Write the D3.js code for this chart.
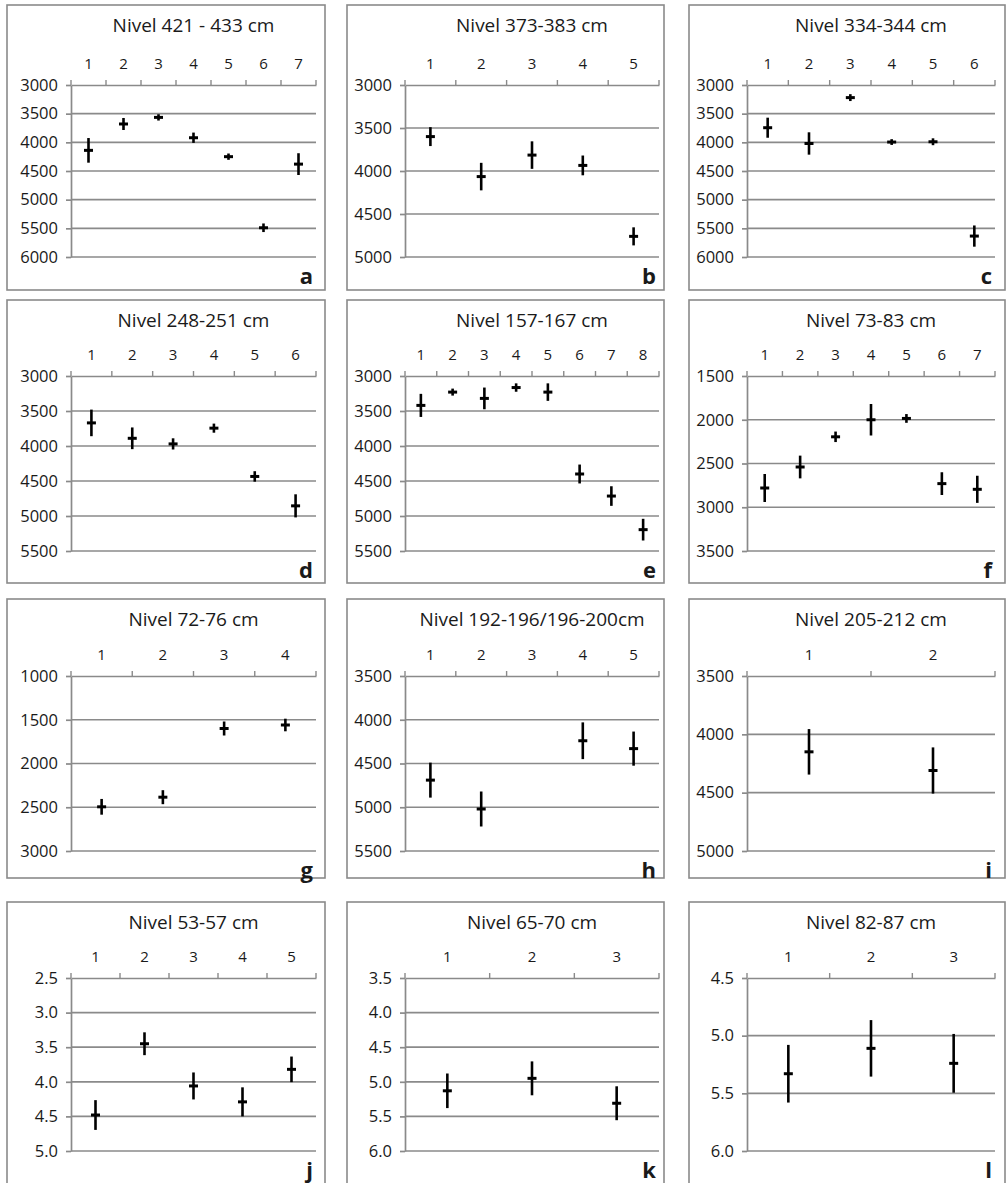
<!DOCTYPE html>
<html>
<head>
<meta charset="utf-8">
<script src="https://cdn.jsdelivr.net/npm/d3@7"></script>
<style>
body { margin: 0; background: #fff; }
text { font-family: "Open Sans", sans-serif; fill: #1a1a1a; }
</style>
</head>
<body>
<div id="chart"></div>
<script>
// one entry per panel, a..l
const titles = ["Nivel 421 - 433 cm", "Nivel 373-383 cm", "Nivel 334-344 cm",
	"Nivel 248-251 cm", "Nivel 157-167 cm", "Nivel 73-83 cm",
	"Nivel 72-76 cm", "Nivel 192-196/196-200cm", "Nivel 205-212 cm",
	"Nivel 53-57 cm", "Nivel 65-70 cm", "Nivel 82-87 cm"]
const letters = ["a", "b", "c", "d", "e", "f", "g", "h", "i", "j", "k", "l"]
const categories = [
	["1", "2", "3", "4", "5", "6", "7"],
	["1", "2", "3", "4", "5"],
	["1", "2", "3", "4", "5", "6"],
	["1", "2", "3", "4", "5", "6"],
	["1", "2", "3", "4", "5", "6", "7", "8"],
	["1", "2", "3", "4", "5", "6", "7"],
	["1", "2", "3", "4"],
	["1", "2", "3", "4", "5"],
	["1", "2"],
	["1", "2", "3", "4", "5"],
	["1", "2", "3"],
	["1", "2", "3"]
]
const means = [
	[4140, 3680, 3565, 3920, 4250, 5490, 4380],
	[3600, 4065, 3815, 3935, 4760],
	[3745, 4020, 3220, 3995, 3990, 5635],
	[3670, 3890, 3970, 3745, 4435, 4855],
	[3420, 3230, 3320, 3165, 3230, 4400, 4715, 5195],
	[2780, 2540, 2195, 2000, 1985, 2730, 2795],
	[2495, 2385, 1600, 1560],
	[4690, 5020, null, 4240, 4330],
	[4150, 4310],
	[4.48, 3.45, 4.06, 4.29, 3.82],
	[5.13, 4.95, 5.31],
	[5.33, 5.11, 5.24]
]
const errors = [
	[215, 105, 55, 90, 55, 75, 190],
	[110, 160, 160, 115, 105],
	[175, 195, 60, 50, 60, 185],
	[190, 155, 80, 65, 75, 165],
	[165, 50, 155, 60, 125, 135, 140, 155],
	[160, 130, 60, 180, 50, 130, 155],
	[90, 80, 80, 72],
	[200, 200, null, 210, 195],
	[195, 198],
	[0.215, 0.165, 0.195, 0.21, 0.185],
	[0.25, 0.245, 0.245],
	[0.25, 0.245, 0.255]
]
const yTicks = [
	[3000, 3500, 4000, 4500, 5000, 5500, 6000],
	[3000, 3500, 4000, 4500, 5000],
	[3000, 3500, 4000, 4500, 5000, 5500, 6000],
	[3000, 3500, 4000, 4500, 5000, 5500],
	[3000, 3500, 4000, 4500, 5000, 5500],
	[1500, 2000, 2500, 3000, 3500],
	[1000, 1500, 2000, 2500, 3000],
	[3500, 4000, 4500, 5000, 5500],
	[3500, 4000, 4500, 5000],
	[2.5, 3.0, 3.5, 4.0, 4.5, 5.0],
	[3.5, 4.0, 4.5, 5.0, 5.5, 6.0],
	[4.5, 5.0, 5.5, 6.0]
]

const svg = d3.select("#chart").append("svg").attr("width", 1008).attr("height", 1183)

// panel boxes: column x / width / plot margins, row y / height / plot top & bottom
const cols = [{x: 7, w: 318, pl: 64, pr: 9}, {x: 347, w: 317, pl: 58, pr: 5}, {x: 689, w: 316, pl: 58, pr: 10}]
const rows = [{y: 5, h: 285, top: 80, bottom: 252}, {y: 300, h: 283, top: 76, bottom: 251},
	{y: 599, h: 279, top: 77, bottom: 252}, {y: 902, h: 300, top: 76, bottom: 249}]

const grey = "#8a8a8a"

const drawPanel = i => {
	const c = cols[i % 3], r = rows[Math.floor(i / 3)]
	const right = c.w - c.pr
	const g = svg.append("g").attr("transform", `translate(${c.x},${r.y})`)

	g.append("rect").attr("width", c.w).attr("height", r.h)
		.attr("fill", "#fff").attr("stroke", grey).attr("stroke-width", 1.6)

	const xs = d3.scaleBand().domain(categories[i]).range([c.pl, right])
	const ticks = yTicks[i]
	const ys = d3.scaleLinear().domain([ticks[0], ticks[ticks.length - 1]]).range([r.top, r.bottom])
	const fmt = ticks[1] - ticks[0] < 1 ? d3.format(".1f") : d3.format("d")

	// horizontal gridlines
	g.append("g").selectAll("line").data(ticks.slice(1)).join("line")
		.attr("x1", c.pl).attr("x2", right)
		.attr("y1", d => ys(d)).attr("y2", d => ys(d))
		.attr("stroke", grey).attr("stroke-width", 1.7)

	// left axis
	const yAxis = g.append("g").attr("transform", `translate(${c.pl},0)`)
		.call(d3.axisLeft(ys).tickValues(ticks).tickFormat(fmt).tickSize(5).tickSizeOuter(0).tickPadding(8))
	yAxis.selectAll("path, line").attr("stroke", grey).attr("stroke-width", 1.7)
	yAxis.selectAll("text").style("font-size", "16.5px").attr("fill", "#1a1a1a")

	// top category axis
	const xAxis = g.append("g").attr("transform", `translate(0,${r.top})`)
		.call(d3.axisTop(xs).tickSize(0).tickSizeOuter(0).tickPadding(16))
	xAxis.select(".domain").attr("stroke", grey).attr("stroke-width", 1.7)
	xAxis.selectAll("text").style("font-size", "15px").attr("fill", "#1a1a1a")
	const bounds = categories[i].map(d => xs(d)).concat([right])
	g.append("g").selectAll("line").data(bounds).join("line")
		.attr("x1", d => d).attr("x2", d => d)
		.attr("y1", r.top).attr("y2", r.top - 5)
		.attr("stroke", grey).attr("stroke-width", 1.4)

	// error bars
	const pts = categories[i].map((d, j) => ({cat: d, m: means[i][j], e: errors[i][j]})).filter(d => d.m !== null)
	const cx = d => xs(d.cat) + xs.bandwidth() / 2
	g.append("g").selectAll("line").data(pts).join("line")
		.attr("x1", cx).attr("x2", cx)
		.attr("y1", d => ys(d.m - d.e)).attr("y2", d => ys(d.m + d.e))
		.attr("stroke", "#000").attr("stroke-width", 2.6)
	g.append("g").selectAll("line").data(pts).join("line")
		.attr("x1", d => cx(d) - 4.5).attr("x2", d => cx(d) + 4.5)
		.attr("y1", d => ys(d.m)).attr("y2", d => ys(d.m))
		.attr("stroke", "#000").attr("stroke-width", 3)

	g.append("text").attr("x", (c.pl + right) / 2).attr("y", 27)
		.attr("text-anchor", "middle").style("font-size", "19px").text(titles[i])

	g.append("text").attr("x", right - 3).attr("y", r.bottom + 27)
		.attr("text-anchor", "end").style("font-size", "22px").style("font-weight", "bold").text(letters[i])
}

d3.range(12).forEach(drawPanel)
</script>
</body>
</html>
